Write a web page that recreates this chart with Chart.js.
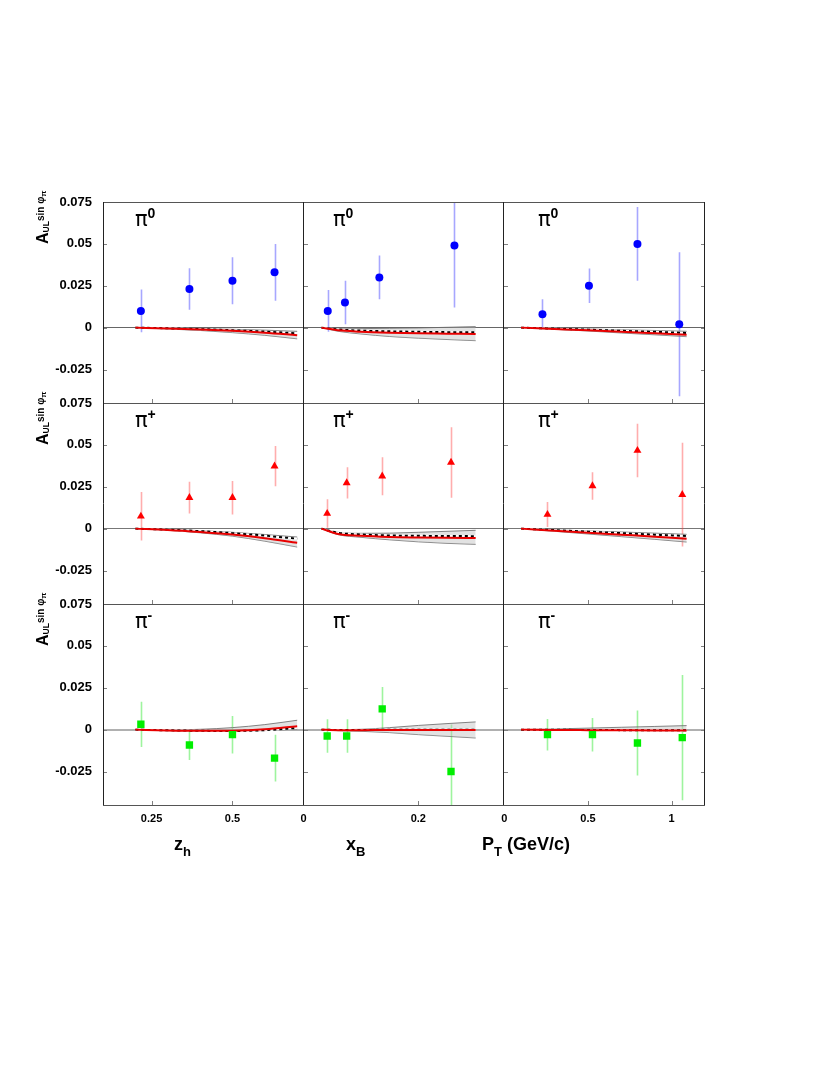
<!DOCTYPE html>
<html>
<head>
<meta charset="utf-8">
<title>A_UL sin phi_pi</title>
<script src="https://cdn.jsdelivr.net/npm/chart.js@4.4.1/dist/chart.umd.min.js"></script>
<style>
  html, body { margin: 0; padding: 0; background: #ffffff; }
  #wrap { position: relative; width: 830px; height: 1075px; overflow: hidden; }
  #c { position: absolute; left: 0; top: 0; }
  .lbl { position: absolute; font-family: 'Liberation Sans', Arial, Helvetica, sans-serif; color: #000; white-space: nowrap; line-height: 1; }
  .pi { font-family: 'DejaVu Sans', sans-serif; font-size: 21px; }
  .pisup { font-size: 14px; font-weight: bold; }
  .ttl { font-size: 18px; font-weight: bold; }
  .ttl .sb { font-size: 13px; position: relative; top: 6px; }
  .ylab { font-size: 16px; font-weight: bold; transform-origin: 0 0; transform: rotate(-90deg); }
  .ylab .ul { font-size: 8.5px; position: relative; top: 1px; }
  .ylab .sn { font-size: 10px; position: relative; top: -4px; }
  .ylab .pp { font-size: 8px; position: relative; top: 2px; }
</style>
</head>
<body>
<div id="wrap">
  <canvas id="c" width="830" height="1075"></canvas>
</div>
<script>
// ---------- axis ranges and tick labels ----------
const yRange = [-0.045, 0.075];
const yTickValues = [-0.025, 0, 0.025, 0.05, 0.075];
const zhRange = [0.1, 0.72];
const xbRange = [0, 0.35];
const ptRange = [0, 1.2];
const zhTicks = [0.25, 0.5];
const xbTicks = [0, 0.2];
const ptTicks = [0, 0.5, 1];
const hadronCharges = ['0', '+', '-'];
const axisTitles = ['z|h|', 'x|B|', 'P|T| (GeV/c)'];

// ---------- bin centres ----------
const zhBins = [0.217, 0.367, 0.5, 0.63];
const xbBinsPi0 = [0.042, 0.072, 0.132, 0.263];
const xbBins = [0.041, 0.075, 0.137, 0.257];
const ptBinsPi0 = [0.228, 0.506, 0.796, 1.046];
const ptBins = [0.258, 0.527, 0.796, 1.064];

// ---------- measured asymmetries and errors ----------
const pi0Zh = [0.010, 0.023, 0.028, 0.033];
const pi0ZhErr = [0.0127, 0.0124, 0.014, 0.017];
const pi0Xb = [0.010, 0.015, 0.030, 0.049];
const pi0XbErr = [0.0125, 0.013, 0.013, 0.037];
const pi0Pt = [0.008, 0.025, 0.050, 0.002];
const pi0PtErr = [0.009, 0.0103, 0.022, 0.043];

const pipZh = [0.0074, 0.0185, 0.0185, 0.0373];
const pipZhErr = [0.0145, 0.0095, 0.010, 0.012];
const pipXb = [0.009, 0.0273, 0.0313, 0.0395];
const pipXbErr = [0.0085, 0.0093, 0.0113, 0.021];
const pipPt = [0.0084, 0.0255, 0.0466, 0.0203];
const pipPtErr = [0.0075, 0.0082, 0.016, 0.031];

const pimZh = [0.0032, -0.0092, -0.003, -0.017];
const pimZhErr = [0.0135, 0.009, 0.0112, 0.014];
const pimXb = [-0.0038, -0.0038, 0.0124, -0.025];
const pimXbErr = [0.010, 0.010, 0.013, 0.028];
const pimPt = [-0.003, -0.003, -0.008, -0.0048];
const pimPtErr = [0.0094, 0.010, 0.0194, 0.0374];

// ---------- model curves (red, dashed, band high, band low) ----------
const zhCurveX = [0.2, 0.3, 0.4, 0.5, 0.6, 0.7];
const xbCurveX = [0.031, 0.06, 0.1, 0.15, 0.2, 0.25, 0.3];
const ptCurveX = [0.1, 0.3, 0.5, 0.7, 0.9, 1.09];

const pi0ZhRed  = [0, -0.0005, -0.0011, -0.0019, -0.003, -0.0045];
const pi0ZhDash = [0, -0.0004, -0.0009, -0.0016, -0.0024, -0.0034];
const pi0ZhHi   = [0, -0.0002, -0.0006, -0.001, -0.0015, -0.0022];
const pi0ZhLo   = [0, -0.0008, -0.0017, -0.003, -0.0046, -0.0067];

const pi0XbRed  = [0, -0.0016, -0.0024, -0.003, -0.0034, -0.0036, -0.0038];
const pi0XbDash = [0, -0.0011, -0.0018, -0.0022, -0.0025, -0.0027, -0.0028];
const pi0XbHi   = [0, -0.0007, -0.0006, -0.0004, -0.0002, 0.0002, 0.0006];
const pi0XbLo   = [0, -0.0022, -0.0038, -0.0053, -0.0063, -0.0071, -0.0078];

const pi0PtRed  = [0, -0.0008, -0.0016, -0.0025, -0.0033, -0.0042];
const pi0PtDash = [0, -0.0006, -0.0012, -0.0019, -0.0025, -0.0032];
const pi0PtHi   = [0, -0.0004, -0.0008, -0.0013, -0.0017, -0.0022];
const pi0PtLo   = [0, -0.001, -0.002, -0.0032, -0.0043, -0.0054];

const pipZhRed  = [0, -0.0008, -0.002, -0.0035, -0.0057, -0.0084];
const pipZhDash = [0, -0.0006, -0.0015, -0.0027, -0.0042, -0.006];
const pipZhHi   = [0, -0.0004, -0.0012, -0.0022, -0.0035, -0.005];
const pipZhLo   = [0, -0.001, -0.0025, -0.0045, -0.0075, -0.011];

const pipXbRed  = [0, -0.0032, -0.0043, -0.005, -0.0053, -0.0055, -0.0056];
const pipXbDash = [0, -0.0025, -0.0035, -0.0041, -0.0043, -0.0044, -0.0045];
const pipXbHi   = [0, -0.0022, -0.0028, -0.0027, -0.0022, -0.0016, -0.001];
const pipXbLo   = [0, -0.0036, -0.0052, -0.0067, -0.0079, -0.0088, -0.0094];

const pipPtRed  = [0, -0.0012, -0.0024, -0.0036, -0.0048, -0.006];
const pipPtDash = [0, -0.0009, -0.0018, -0.0027, -0.0036, -0.0044];
const pipPtHi   = [0, -0.0007, -0.0014, -0.002, -0.0027, -0.0034];
const pipPtLo   = [0, -0.0016, -0.0032, -0.0048, -0.0064, -0.008];

const pimZhRed  = [0, -0.0005, -0.0007, -0.0006, 0.0002, 0.002];
const pimZhDash = [0, -0.0004, -0.0007, -0.0008, -0.0003, 0.001];
const pimZhHi   = [0, -0.0002, 0.0002, 0.0012, 0.003, 0.0056];
const pimZhLo   = [0, -0.0006, -0.001, -0.0011, -0.0006, 0.0004];

const pimXbRed  = [0, -0.0003, -0.0003, -0.0002, -0.0002, -0.0002, -0.0002];
const pimXbDash = [0, -0.0002, -0.0002, -0.0001, 0, 0, 0];
const pimXbHi   = [0, 0, 0.0002, 0.0012, 0.0025, 0.0036, 0.0046];
const pimXbLo   = [0, -0.0006, -0.001, -0.0018, -0.003, -0.004, -0.005];

const pimPtRed  = [0, -0.0002, -0.0003, -0.0004, -0.0005, -0.0005];
const pimPtDash = [0, -0.0001, -0.0002, -0.0003, -0.0003, -0.0003];
const pimPtHi   = [0, 0.0004, 0.0009, 0.0014, 0.0019, 0.0024];
const pimPtLo   = [0, -0.0002, -0.0003, -0.0004, -0.0005, -0.0006];

// ---------- panel table built from the arrays ----------
const panels = [
  [0, 0, zhBins, pi0Zh, pi0ZhErr, zhCurveX, pi0ZhRed, pi0ZhDash, pi0ZhHi, pi0ZhLo],
  [0, 1, xbBinsPi0, pi0Xb, pi0XbErr, xbCurveX, pi0XbRed, pi0XbDash, pi0XbHi, pi0XbLo],
  [0, 2, ptBinsPi0, pi0Pt, pi0PtErr, ptCurveX, pi0PtRed, pi0PtDash, pi0PtHi, pi0PtLo],
  [1, 0, zhBins, pipZh, pipZhErr, zhCurveX, pipZhRed, pipZhDash, pipZhHi, pipZhLo],
  [1, 1, xbBins, pipXb, pipXbErr, xbCurveX, pipXbRed, pipXbDash, pipXbHi, pipXbLo],
  [1, 2, ptBins, pipPt, pipPtErr, ptCurveX, pipPtRed, pipPtDash, pipPtHi, pipPtLo],
  [2, 0, zhBins, pimZh, pimZhErr, zhCurveX, pimZhRed, pimZhDash, pimZhHi, pimZhLo],
  [2, 1, xbBins, pimXb, pimXbErr, xbCurveX, pimXbRed, pimXbDash, pimXbHi, pimXbLo],
  [2, 2, ptBins, pimPt, pimPtErr, ptCurveX, pimPtRed, pimPtDash, pimPtHi, pimPtLo]
];
const colRanges = [zhRange, xbRange, ptRange];
const colTicks = [zhTicks, xbTicks, ptTicks];

const rowStyle = [
  { style: 'circle', radius: 4, color: '#0000ff', err: 'rgba(60,60,255,0.45)', zero: '#666666', zeroW: 1 },
  { style: 'triangle', radius: 4.6, color: '#ff0000', err: 'rgba(255,60,60,0.42)', zero: '#777777', zeroW: 1 },
  { style: 'rect', radius: 5.2, color: '#00ee00', err: 'rgba(40,230,40,0.45)', zero: '#b0b0b0', zeroW: 2 }
];

const pts = (xs, ys) => xs.map((x, i) => ({ x: x, y: ys[i] }));
const fmt = v => String(parseFloat(Number(v).toFixed(3)));

const datasets = [];
panels.forEach(p => {
  const [r, c, bx, vals, errs, cx, red, dash, hi, lo] = p;
  const st = rowStyle[r];
  const ax = { xAxisID: 'x' + c, yAxisID: 'y' + r, pointRadius: 0, cubicInterpolationMode: 'monotone', fill: false };
  datasets.push(Object.assign({}, ax, { data: pts(cx, lo), borderColor: '#666', borderWidth: 0.8, order: 6 }));
  datasets.push(Object.assign({}, ax, { data: pts(cx, hi), borderColor: '#666', borderWidth: 0.8, fill: '-1', backgroundColor: 'rgba(190,190,190,0.45)', order: 5 }));
  datasets.push(Object.assign({}, ax, { data: pts(cx, dash), borderColor: '#ffffff', borderWidth: 2, order: 4 }));
  datasets.push(Object.assign({}, ax, { data: pts(cx, dash), borderColor: '#000000', borderWidth: 2, borderDash: [3, 3], order: 3 }));
  datasets.push(Object.assign({}, ax, { data: pts(cx, red), borderColor: '#e80000', borderWidth: 2, order: 2 }));
  datasets.push({
    xAxisID: 'x' + c, yAxisID: 'y' + r, data: pts(bx, vals), showLine: false,
    pointStyle: st.style, pointRadius: st.radius, pointBackgroundColor: st.color,
    pointBorderColor: st.color, pointBorderWidth: 0, order: 1,
    errors: errs, errorColor: st.err
  });
});

// ---------- scales: 3 stacked x axes, 3 stacked y axes ----------
const scales = {};
colRanges.forEach((rng, c) => {
  scales['x' + c] = {
    type: 'linear', position: 'bottom', stack: 'cols', stackWeight: 1, weight: c + 1,
    min: rng[0], max: rng[1], offset: false,
    afterBuildTicks: s => { s.ticks = colTicks[c].map(v => ({ value: v })); },
    afterFit: s => { s.height = 30; },
    grid: { display: false, drawTicks: false },
    border: { display: false },
    ticks: { padding: 7, color: '#000', autoSkip: false, maxRotation: 0,
      font: { family: "'Liberation Sans', Arial, sans-serif", size: 11, weight: 'bold' },
      callback: v => fmt(v) }
  };
});
[0, 1, 2].forEach(r => {
  scales['y' + r] = {
    type: 'linear', position: 'left', stack: 'rows', stackWeight: 1, weight: 3 - r,
    min: yRange[0], max: yRange[1],
    afterBuildTicks: s => { s.ticks = yTickValues.map(v => ({ value: v })); },
    afterFit: s => { s.width = 60; },
    grid: { display: true, drawTicks: false,
      color: ctx => (ctx.tick && ctx.tick.value === 0) ? rowStyle[r].zero : 'rgba(0,0,0,0)',
      lineWidth: rowStyle[r].zeroW },
    border: { display: false },
    ticks: { padding: 11, color: '#000', autoSkip: false,
      font: { family: "'Liberation Sans', Arial, sans-serif", size: 13, weight: 'bold' },
      callback: v => fmt(v) }
  };
});

// ---------- plugins: error bars, frames with inward ticks ----------
const errPlugin = {
  id: 'errbars',
  beforeDatasetsDraw(chart) {
    const ctx = chart.ctx;
    chart.data.datasets.forEach(ds => {
      if (!ds.errors) return;
      const xs = chart.scales[ds.xAxisID], ys = chart.scales[ds.yAxisID];
      ctx.save();
      ctx.beginPath();
      ctx.rect(xs.left, ys.top, xs.right - xs.left, ys.bottom - ys.top);
      ctx.clip();
      ctx.strokeStyle = ds.errorColor;
      ctx.lineWidth = 1.6;
      ds.data.forEach((p, k) => {
        const px = Math.round(xs.getPixelForValue(p.x)) + 0.5;
        ctx.beginPath();
        ctx.moveTo(px, ys.getPixelForValue(p.y - ds.errors[k]));
        ctx.lineTo(px, ys.getPixelForValue(p.y + ds.errors[k]));
        ctx.stroke();
      });
      ctx.restore();
    });
  }
};

const framePlugin = {
  id: 'frames',
  afterDatasetsDraw(chart) {
    const ctx = chart.ctx;
    ctx.save();
    ctx.lineWidth = 1;
    ctx.strokeStyle = '#808080';
    ctx.beginPath();
    for (let r = 0; r < 3; r++) {
      const ys = chart.scales['y' + r];
      for (let c = 0; c < 3; c++) {
        const xs = chart.scales['x' + c];
        const L = Math.round(xs.left), R = Math.round(xs.right), B = Math.round(ys.bottom);
        yTickValues.forEach(v => {
          if (v <= ys.min || v >= ys.max) return;
          const py = Math.round(ys.getPixelForValue(v)) + 0.5;
          ctx.moveTo(L, py); ctx.lineTo(L + 4, py);
          if (c === 2) { ctx.moveTo(R, py); ctx.lineTo(R - 4, py); }
        });
        colTicks[c].forEach(v => {
          if (v <= xs.min || v >= xs.max) return;
          const px = Math.round(xs.getPixelForValue(v)) + 0.5;
          ctx.moveTo(px, B); ctx.lineTo(px, B - 4);
        });
      }
    }
    ctx.stroke();
    const ca = chart.chartArea;
    ctx.strokeStyle = '#555555';
    ctx.beginPath();
    const ys0 = chart.scales.y0;
    [ys0.top].concat([0, 1, 2].map(r => chart.scales['y' + r].bottom)).forEach(y => {
      const py = Math.round(y) + 0.5;
      ctx.moveTo(ca.left, py); ctx.lineTo(ca.right, py);
    });
    ctx.stroke();
    ctx.strokeStyle = '#222222';
    ctx.beginPath();
    [chart.scales.x0.left].concat([0, 1, 2].map(c => chart.scales['x' + c].right)).forEach(x => {
      const px = Math.round(x) - 0.5 + (x === chart.scales.x0.left ? 1 : 0);
      ctx.moveTo(px, ca.top); ctx.lineTo(px, ca.bottom);
    });
    ctx.stroke();
    ctx.restore();
  }
};

new Chart(document.getElementById('c'), {
  type: 'line',
  data: { datasets: datasets },
  options: {
    responsive: false,
    animation: false,
    devicePixelRatio: 1,
    layout: { padding: { left: 43, top: 202, right: 125, bottom: 240 } },
    plugins: { legend: { display: false }, tooltip: { enabled: false } },
    scales: scales
  },
  plugins: [errPlugin, framePlugin]
});

// ---------- text overlays ----------
const wrap = document.getElementById('wrap');
function addLabel(cls, html, left, top) {
  const d = document.createElement('div');
  d.className = 'lbl ' + cls;
  d.innerHTML = html;
  d.style.left = left + 'px';
  d.style.top = top + 'px';
  wrap.appendChild(d);
  return d;
}
const piLeft = [135, 333, 538];
const piBase = [227, 428, 629];
const rowTops = [202, 403, 604];
for (let r = 0; r < 3; r++) {
  for (let c = 0; c < 3; c++) {
    addLabel('pi', '\u03C0', piLeft[c], piBase[r] - 17.8);
    addLabel('pisup', hadronCharges[r], piLeft[c] + 12.5, piBase[r] - 9 - 11.85);
  }
  addLabel('ylab', 'A<span class="ul">UL</span><span class="sn">sin \u03C6<span class="pp">\u03C0</span></span>', 35, rowTops[r] + 42);
}
const titleLeft = [174, 346, 482];
axisTitles.forEach((t, c) => {
  const parts = t.split('|');
  addLabel('ttl', parts[0] + '<span class="sb">' + parts[1] + '</span>' + parts[2].replace(/ /g, '&nbsp;'), titleLeft[c], 850 - 15.24);
});
</script>
</body>
</html>
